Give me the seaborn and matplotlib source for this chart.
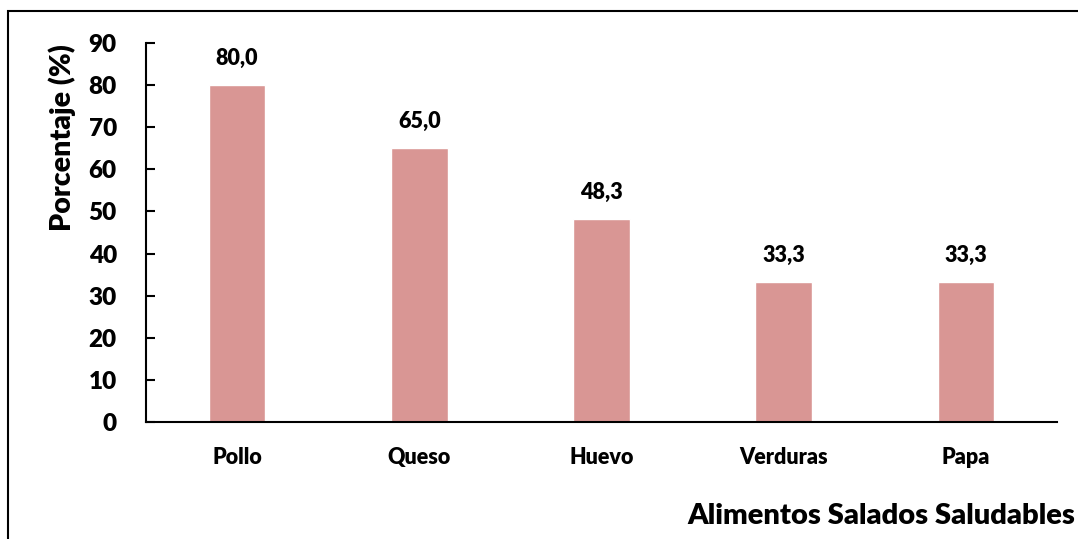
import matplotlib
matplotlib.use("Agg")
import matplotlib.pyplot as plt
import seaborn as sns
import pandas as pd
from matplotlib.patches import Rectangle

categories = ["Pollo", "Queso", "Huevo", "Verduras", "Papa"]
values = [80.0, 65.0, 48.3, 33.3, 33.3]
value_labels = ["80,0", "65,0", "48,3", "33,3", "33,3"]
y_ticks = [0, 10, 20, 30, 40, 50, 60, 70, 80, 90]

sns.set_theme(style="white")
plt.rcParams["font.family"] = ["Lato", "DejaVu Sans"]
plt.rcParams["font.weight"] = "heavy"

W = "heavy"

df = pd.DataFrame({"Alimento": categories, "Porcentaje": values})

fig = plt.figure(figsize=(10.78, 5.39), dpi=100)
ax = fig.add_axes([146 / 1078, 1 - 422 / 539, (1057 - 146) / 1078, (422 - 43) / 539])

sns.barplot(data=df, x="Alimento", y="Porcentaje", color="#D99694",
            saturation=1, width=0.31, ax=ax)

ax.set_ylim(0, 90)
ax.set_xlim(-0.5, 4.5)
ax.set_yticks(y_ticks)
ax.set_yticklabels([str(t) for t in y_ticks], fontsize=17.5, fontweight=W)
ax.set_xticks(range(len(categories)))
ax.set_xticklabels(categories, fontsize=15.5, fontweight=W)
ax.tick_params(axis="y", direction="in", length=6.5, width=1.5, left=True, pad=21, colors="black")
ax.tick_params(axis="x", length=0, pad=18, colors="black")
ax.set_xlabel("")
ax.set_ylabel("")

for side in ["top", "right"]:
    ax.spines[side].set_visible(False)
for side in ["left", "bottom"]:
    ax.spines[side].set_color("black")
    ax.spines[side].set_linewidth(1.5)

for i, (v, lab) in enumerate(zip(values, value_labels)):
    ax.annotate(lab, (i, v), xytext=(0, 19), textcoords="offset points",
                ha="center", va="center", fontsize=15.5, fontweight=W, color="black")

fig.text(62 / 1078, 1 - 138 / 539, "Porcentaje (%)", rotation=90, ha="center", va="center",
         fontsize=20.5, fontweight=W, color="black")
fig.text(1075 / 1078, 1 - 516 / 539, "Alimentos Salados Saludables", ha="right", va="center",
         fontsize=21, fontweight=W, color="black")

fig.patches.append(Rectangle((8 / 1078, -0.05), 1.2, 1 - 11 / 539 + 0.05,
                             transform=fig.transFigure, fill=False,
                             edgecolor="black", linewidth=1.5, clip_on=False))

fig.savefig("out.png", dpi=100, facecolor="white")
